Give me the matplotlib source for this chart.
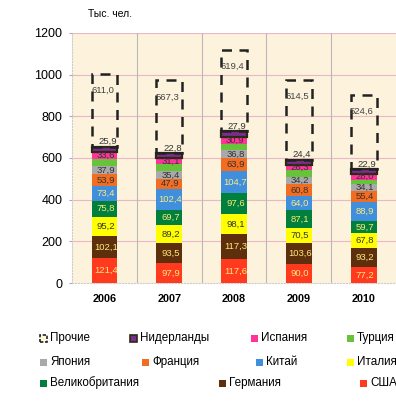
import numpy as np
import matplotlib.pyplot as plt
from matplotlib.patches import Rectangle

plt.rcParams["font.family"] = ["Liberation Sans", "DejaVu Sans"]

# ---------------------------------------------------------------------
# Data (тыс. чел.)
# ---------------------------------------------------------------------

years = ["2006", "2007", "2008", "2009", "2010"]

usa = [121.4, 97.9, 117.6, 90.0, 77.2]
germany = [102.1, 93.5, 117.3, 103.6, 93.2]
italy = [95.2, 89.2, 98.1, 70.5, 67.8]
uk = [75.8, 69.7, 97.6, 87.1, 59.7]
china = [73.4, 102.4, 104.7, 64.0, 88.9]
france = [53.9, 47.9, 63.9, 60.8, 55.4]
japan = [37.9, 35.4, 36.8, 34.2, 34.1]
turkey = [35.0, 33.0, 33.0, 30.0, 20.0]
spain = [33.6, 31.1, 30.9, 26.3, 28.0]
netherlands = [25.9, 22.8, 27.9, 24.4, 22.9]

# "Прочие": printed value and the (compressed) height drawn in the picture
others = [611.0, 567.3, 619.4, 614.5, 524.6]
others_drawn = [350, 350, 392, 384, 355]

series = [
    ("США", usa, "#ff3a1e", "#ffe97a"),
    ("Германия", germany, "#5e2f0c", "#ffe97a"),
    ("Италия", italy, "#ffff00", "#333333"),
    ("Великобритания", uk, "#00803c", "#ffe97a"),
    ("Китай", china, "#3f8fdc", "#ffe97a"),
    ("Франция", france, "#f26d21", "#333333"),
    ("Япония", japan, "#a9a9a9", "#333333"),
    ("Турция", turkey, "#66c33a", None),
    ("Испания", spain, "#ff3399", "#333333"),
    ("Нидерланды", netherlands, "#7b2c8f", None),
]


def fmt(v):
    return f"{v:.1f}".replace(".", ",")


# ---------------------------------------------------------------------
# Plot
# ---------------------------------------------------------------------

fig = plt.figure(figsize=(3.96, 4.05), dpi=100)
ax = fig.add_axes([0.182, 0.301, 0.818, 0.618])
ax.set_facecolor("#fdf3dc")

x = np.arange(len(years))
bottom = np.zeros(len(years))
width = 0.4

for name, vals, color, tcolor in series:
    vals = np.array(vals)
    if name == "Нидерланды":
        ax.bar(x, vals, width, bottom=bottom, color=color,
               edgecolor="#2a2a10", linewidth=1.6, zorder=3)
        for xi, b, v in zip(x, bottom, vals):
            ax.text(xi + 0.05, b + v + 3, fmt(v), ha="center", va="bottom",
                    fontsize=6.8, color="#333333", zorder=5)
    else:
        ax.bar(x, vals, width, bottom=bottom, color=color, zorder=3)
        if tcolor is not None:
            for xi, b, v in zip(x, bottom, vals):
                ax.text(xi + 0.02, b + v / 2, fmt(v), ha="center", va="center",
                        fontsize=6.8, color=tcolor, zorder=5)
    bottom += vals

# dashed "Прочие" boxes
ax.bar(x, others_drawn, width, bottom=bottom, facecolor="none",
       edgecolor="#222222", linewidth=1.8, linestyle=(0, (4, 3)), zorder=4)
for xi, b, h, v in zip(x, bottom, others_drawn, others):
    ax.text(xi - 0.03, b + h - 80, fmt(v), ha="center", va="center",
            fontsize=6.8, color="#444444", zorder=5)

ax.set_xlim(-0.5, len(years) - 0.5)
ax.set_ylim(0, 1200)
ax.set_yticks(range(0, 1201, 200))
ax.set_xticks(x)
ax.set_xticklabels(years, fontsize=7.8, fontweight="bold")
ax.tick_params(axis="y", labelsize=9, length=2, color="#aaaaaa", pad=5)
ax.tick_params(axis="x", length=0, pad=8)

for v in range(200, 1201, 200):
    ax.axhline(v, color="#e8b8c8", linewidth=0.8, zorder=1)
for xv in np.arange(0.5, len(years) - 0.5, 1):
    ax.axvline(xv, color="#b8b8b8", linewidth=0.8, zorder=1)

for s in ["top", "right"]:
    ax.spines[s].set_visible(False)
ax.spines["left"].set_color("#cccccc")
ax.spines["left"].set_linestyle(":")
ax.spines["bottom"].set_color("#cccccc")
ax.spines["bottom"].set_linestyle(":")

fig.text(110 / 396, 1 - 14 / 405, "Тыс. чел.", fontsize=7.5, ha="center",
         va="center")

# ---------------------------------------------------------------------
# Legend (manual placement, like the source)
# ---------------------------------------------------------------------

colors = {name: c for name, _, c, _ in series}
legend_items = [
    ("Прочие", 40, 338), ("Нидерланды", 130, 338), ("Испания", 251, 338),
    ("Турция", 347, 338),
    ("Япония", 40, 362), ("Франция", 142, 362), ("Китай", 256, 362),
    ("Италия", 347, 362),
    ("Великобритания", 40, 383), ("Германия", 219, 383), ("США", 360, 383),
]
for name, px, py in legend_items:
    fx, fy = px / 396, 1 - py / 405
    w, h = 7 / 396, 7 / 405
    if name == "Прочие":
        patch = Rectangle((fx, fy - h / 2), w, h, transform=fig.transFigure,
                          facecolor="#fff8d8", edgecolor="#222222",
                          linewidth=1.2, linestyle=(0, (2, 1)))
    elif name == "Нидерланды":
        patch = Rectangle((fx, fy - h / 2), w, h, transform=fig.transFigure,
                          facecolor=colors[name], edgecolor="#2a2a10",
                          linewidth=1.2)
    else:
        patch = Rectangle((fx, fy - h / 2), w, h, transform=fig.transFigure,
                          facecolor=colors[name], edgecolor="none")
    fig.patches.append(patch)
    fig.text(fx + 10 / 396, fy, name, fontsize=8.4, ha="left", va="center")

fig.savefig("out.png", dpi=100)
